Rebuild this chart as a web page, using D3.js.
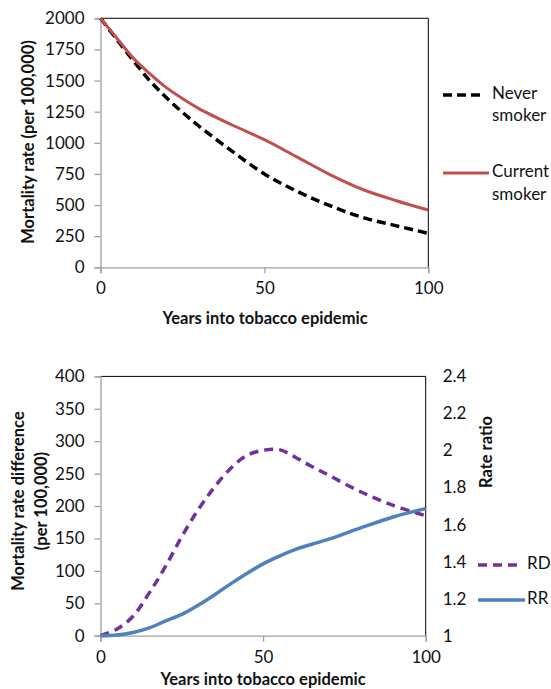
<!DOCTYPE html>
<html>
<head>
<meta charset="utf-8">
<script src="https://cdn.jsdelivr.net/npm/d3@7"></script>
<style>
  body { margin: 0; background: #fff; }
  svg { display: block; font-family: Lato, "Open Sans", sans-serif; }
</style>
</head>
<body>
<svg id="chart" width="551" height="689"></svg>
<script>
// top panel: mortality rates
const yearsTop = [0, 5, 10, 15, 20, 25, 30, 40, 50, 60, 70, 80, 90, 100];
const neverSmoker = [2000, 1830, 1660, 1500, 1365, 1245, 1135, 935, 750, 610, 495, 400, 335, 273];
const currentSmoker = [2000, 1840, 1680, 1555, 1445, 1355, 1275, 1145, 1025, 885, 745, 625, 537, 460];

// bottom panel: difference and ratio
const yearsBottom = [0, 5, 10, 15, 20, 25, 30, 35, 40, 45, 50, 55, 60, 65, 70, 80, 90, 100];
const rateDiff = [0, 10, 30, 66, 107, 153, 194, 229, 258, 278, 286, 287, 275, 261, 248, 222, 201, 185];
const rateRatio = [1.0, 1.004, 1.0175, 1.042, 1.08, 1.115, 1.164, 1.22, 1.28, 1.336, 1.388, 1.43, 1.466, 1.494, 1.52, 1.582, 1.641, 1.686];

const xTicks = [0, 50, 100];
const yTicksTop = [0, 250, 500, 750, 1000, 1250, 1500, 1750, 2000];
const yTicksLeft = [0, 50, 100, 150, 200, 250, 300, 350, 400];
const yTicksRight = [1, 1.2, 1.4, 1.6, 1.8, 2, 2.2, 2.4];

const GRAY = "#a0a0a0";
const FS = 17;
const TFS = 16.5;
const CURVE = d3.curveCatmullRom.alpha(0.5);

const svg = d3.select("#chart");

const drawFrame = (x, y, ticks, top, right, bottom, left) => {
  // black top and right border, gray axes
  svg.append("line").attr("x1", left).attr("x2", right).attr("y1", top).attr("y2", top)
    .attr("stroke", "#000").attr("stroke-width", 1);
  svg.append("line").attr("x1", right).attr("x2", right).attr("y1", top).attr("y2", bottom)
    .attr("stroke", "#000").attr("stroke-width", 1);

  const gx = svg.append("g")
    .attr("transform", `translate(0, ${bottom})`)
    .call(d3.axisBottom(x).tickValues(xTicks).tickSize(6).tickPadding(9));
  gx.selectAll("path, line").attr("stroke", GRAY).attr("stroke-width", 1.3);
  gx.selectAll("text").attr("font-size", FS).attr("fill", "#111").attr("font-family", "Lato");

  const gy = svg.append("g")
    .attr("transform", `translate(${left}, 0)`)
    .call(d3.axisLeft(y).tickValues(ticks).tickFormat(d3.format("d")).tickSize(6).tickPadding(10));
  gy.selectAll("path, line").attr("stroke", GRAY).attr("stroke-width", 1.3);
  gy.selectAll("text").attr("font-size", FS).attr("fill", "#111").attr("font-family", "Lato");
};

const xTitle = (cx, cy) =>
  svg.append("text").attr("x", cx).attr("y", cy).attr("text-anchor", "middle")
    .attr("dominant-baseline", "middle").attr("font-size", TFS).attr("font-weight", "bold")
    .attr("fill", "#111").text("Years into tobacco epidemic");

const yTitle = (cx, cy, txt) =>
  svg.append("text").attr("transform", `translate(${cx}, ${cy}) rotate(-90)`)
    .attr("text-anchor", "middle").attr("dominant-baseline", "middle")
    .attr("font-size", TFS).attr("font-weight", "bold").attr("fill", "#111").text(txt);

// ---------- top chart ----------
const T = { top: 18.3, bottom: 267.3, left: 100.5, right: 428.3 };
const x1 = d3.scaleLinear().domain([0, 100]).range([T.left, T.right]);
const y1 = d3.scaleLinear().domain([0, 2000]).range([T.bottom, T.top]);
drawFrame(x1, y1, yTicksTop, T.top, T.right, T.bottom, T.left);

const lineTop = (vals) => d3.line()
  .x((d, i) => x1(yearsTop[i]))
  .y((d) => y1(d))
  .curve(CURVE)(vals);

svg.append("path").attr("d", lineTop(neverSmoker)).attr("fill", "none")
  .attr("stroke", "#000").attr("stroke-width", 3.5).attr("stroke-dasharray", "9,5");
svg.append("path").attr("d", lineTop(currentSmoker)).attr("fill", "none")
  .attr("stroke", "#C0504D").attr("stroke-width", 3);

xTitle(265, 320);
yTitle(30, 142, "Mortality rate (per 100,000)");

// legend top
svg.append("line").attr("x1", 443).attr("x2", 482).attr("y1", 95).attr("y2", 95)
  .attr("stroke", "#000").attr("stroke-width", 3.5).attr("stroke-dasharray", "9,5");
svg.append("line").attr("x1", 443).attr("x2", 489).attr("y1", 173).attr("y2", 173)
  .attr("stroke", "#C0504D").attr("stroke-width", 3);
[["Never", 95], ["smoker", 117], ["Current", 173], ["smoker", 196]].forEach(([t, yy]) =>
  svg.append("text").attr("x", 492).attr("y", yy).attr("dominant-baseline", "middle")
    .attr("font-size", FS).attr("fill", "#111").text(t));

// ---------- bottom chart ----------
const B = { top: 376.4, bottom: 635.7, left: 100.5, right: 425.7 };
const x2 = d3.scaleLinear().domain([0, 100]).range([B.left, B.right]);
const y2 = d3.scaleLinear().domain([0, 400]).range([B.bottom, B.top]);
const y2r = d3.scaleLinear().domain([1, 2.4]).range([B.bottom, B.top]);
drawFrame(x2, y2, yTicksLeft, B.top, B.right, B.bottom, B.left);

const gr = svg.append("g")
  .attr("transform", `translate(${B.right}, 0)`)
  .call(d3.axisRight(y2r).tickValues(yTicksRight).tickSize(0).tickPadding(17)
    .tickFormat((d) => d3.format("~g")(d)));
gr.select("path").remove();
gr.selectAll("text").attr("font-size", FS).attr("fill", "#111").attr("font-family", "Lato");

svg.append("path")
  .attr("d", d3.line().x((d, i) => x2(yearsBottom[i])).y((d) => y2(d)).curve(CURVE)(rateDiff))
  .attr("fill", "none").attr("stroke", "#7030A0").attr("stroke-width", 3.5).attr("stroke-dasharray", "9,6");
svg.append("path")
  .attr("d", d3.line().x((d, i) => x2(yearsBottom[i])).y((d) => y2r(d)).curve(CURVE)(rateRatio))
  .attr("fill", "none").attr("stroke", "#4F81BD").attr("stroke-width", 3.5);

xTitle(263, 681);
svg.append("text").attr("transform", "translate(31, 501) rotate(-90)")
  .attr("text-anchor", "middle").attr("font-size", TFS).attr("font-weight", "bold").attr("fill", "#111")
  .selectAll("tspan").data(["Mortality rate difference", "(per 100,000)"]).enter().append("tspan")
  .attr("x", 0).attr("y", (d, i) => (i === 0 ? -11 : 12)).attr("dominant-baseline", "middle").text((d) => d);
yTitle(488, 452, "Rate ratio");

// legend bottom
svg.append("line").attr("x1", 478).attr("x2", 518).attr("y1", 565).attr("y2", 565)
  .attr("stroke", "#7030A0").attr("stroke-width", 3.5).attr("stroke-dasharray", "9,6");
svg.append("line").attr("x1", 478).attr("x2", 525).attr("y1", 600).attr("y2", 600)
  .attr("stroke", "#4F81BD").attr("stroke-width", 3.5);
[["RD", 565], ["RR", 600]].forEach(([t, yy]) =>
  svg.append("text").attr("x", 527).attr("y", yy).attr("dominant-baseline", "middle")
    .attr("font-size", FS).attr("fill", "#111").text(t));
</script>
</body>
</html>
